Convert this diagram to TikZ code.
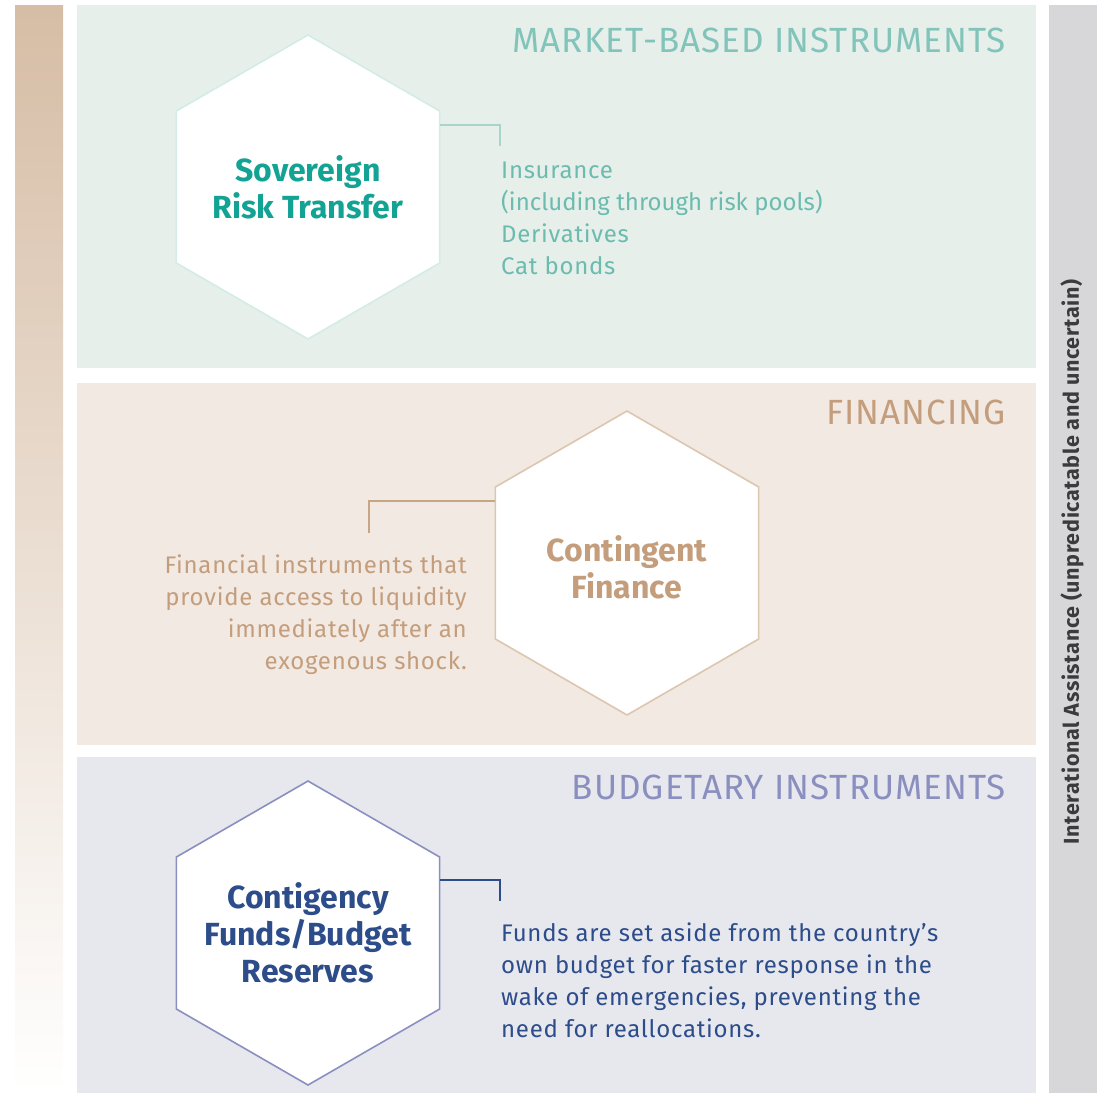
\documentclass[tikz,border=0pt]{standalone}
\usepackage{fontspec}
\setmainfont{Fira Sans}
\usetikzlibrary{shapes.geometric, positioning, calc}

\definecolor{mintbg}{HTML}{E6EFEA}
\definecolor{sandbg}{HTML}{F1E9E2}
\definecolor{lilacbg}{HTML}{E7E8EE}
\definecolor{sidegray}{HTML}{D7D7D9}
\definecolor{tanbar}{HTML}{D6BDA5}
\definecolor{tealtitle}{HTML}{82C4BA}
\definecolor{tealdark}{HTML}{13A394}
\definecolor{tealtext}{HTML}{6CBBAF}
\definecolor{tealline}{HTML}{A9D4CB}
\definecolor{tealedge}{HTML}{D3ECE7}
\definecolor{tantext}{HTML}{C49E7C}
\definecolor{tanedge}{HTML}{DDC6AF}
\definecolor{tanline}{HTML}{C8A584}
\definecolor{navytext}{HTML}{2C4C8A}
\definecolor{lilacedge}{HTML}{8A8FC0}
\definecolor{lilactitle}{HTML}{8A8FBF}
\definecolor{graytext}{HTML}{3B3B3D}

\tikzset{
  hexa/.style={regular polygon, regular polygon sides=6, shape border rotate=30,
    minimum size=304pt, inner sep=0pt, fill=white, line width=1.6pt},
  hexlabel/.style={align=center, inner sep=0pt, font=\bfseries\fontsize{32}{37}\selectfont},
  sectitle/.style={anchor=base east, inner sep=0pt,
    font=\fontsize{35}{35}\selectfont\addfontfeatures{LetterSpace=3}},
  bodytext/.style={inner sep=0pt, font=\fontsize{24}{32}\selectfont\addfontfeatures{LetterSpace=3}},
  elbow/.style={line width=2.2pt},
}

\begin{document}
\begin{tikzpicture}[x=1pt,y=-1pt]
\useasboundingbox (0,0) rectangle (1099,1093);
%---------------------------------------------------
\shade[top color=tanbar, bottom color=white] (15,5) rectangle (63,1093);
\fill[sidegray] (1049,5) rectangle (1097,1093);
\fill[mintbg] (77,5) rectangle (1036,368);
\fill[sandbg] (77,383) rectangle (1036,745);
\fill[lilacbg] (77,757) rectangle (1036,1093);
%---------------------------------------------------
\node[hexa, draw=tealedge] (srt) at (308,187) {};
\node[hexa, draw=tanedge] (cf) at (627,563) {};
\node[hexa, draw=lilacedge] (cfb) at (308,933) {};
\node[hexlabel, text=tealdark] (srtname) at (srt) {Sovereign\\Risk Transfer};
\node[hexlabel, text=tantext] (cfname) at ([yshift=-4pt]cf.center) {Contingent\\Finance};
\node[hexlabel, text=navytext] (cfbname) at (cfb) {Contigency\\Funds/Budget\\Reserves};
%---------------------------------------------------
\node[sectitle, text=tealtitle] (mbi) at (1006,52) {MARKET-BASED INSTRUMENTS};
\node[sectitle, text=tantext] (fin) at (1006,424) {FINANCING};
\node[sectitle, text=lilactitle] (bud) at (1006,799) {BUDGETARY INSTRUMENTS};
%---------------------------------------------------
\node[bodytext, anchor=north west, align=left, text=tealtext] (srtlist) at (501,162)
  {Insurance\\{\addfontfeatures{LetterSpace=0}(including through risk pools)}\\Derivatives\\Cat bonds};
\node[bodytext, anchor=north east, align=right, text=tantext] (cfnote) at (467,555)
  {Financial instruments that\\provide access to liquidity\\immediately after an\\exogenous shock.};
\node[bodytext, anchor=north west, align=left, text=navytext] (cfbnote) at (501,923)
  {Funds are set aside from the country’s\\own budget for faster response in the\\wake of emergencies, preventing the\\need for reallocations.};
%---------------------------------------------------
\node[rotate=90, inner sep=0pt, text=graytext,
  font=\bfseries\fontsize{21.5}{21.5}\selectfont\addfontfeatures{LetterSpace=3}] (aid) at (1072,562)
  {Interational Assistance (unpredicatable and uncertain)};
%---------------------------------------------------
\coordinate (srttip) at (500,146);
\coordinate (cftip) at (369,533);
\coordinate (cfbtip) at (500,901);
\draw[elbow, tealline] ([yshift=62pt]srt.east) -| (srttip);
\draw[elbow, tanline] ([yshift=62pt]cf.west) -| (cftip);
\draw[elbow, navytext] ([yshift=53pt]cfb.east) -| (cfbtip);
\end{tikzpicture}
\end{document}
